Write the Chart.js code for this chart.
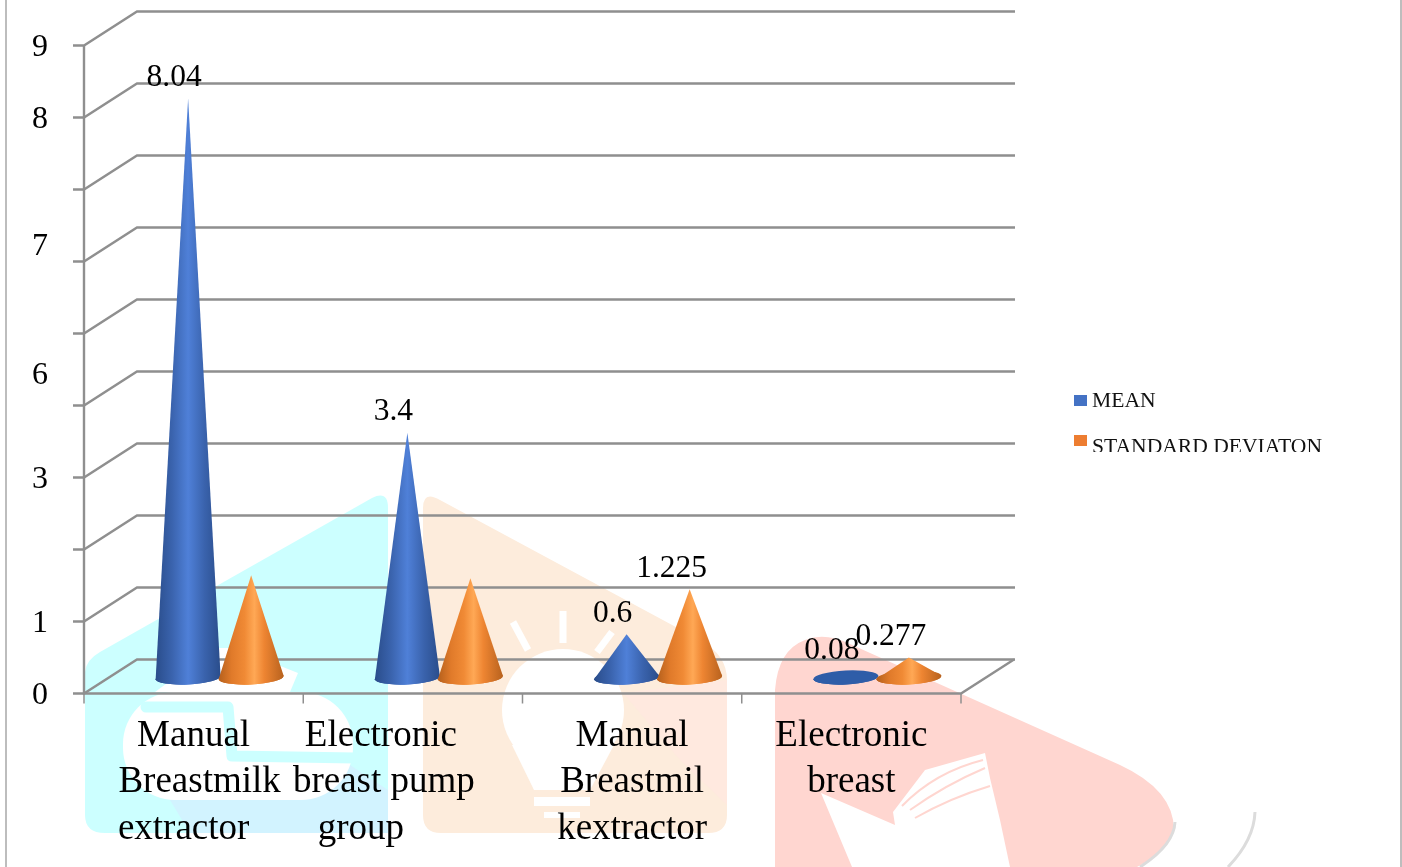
<!DOCTYPE html>
<html>
<head>
<meta charset="utf-8">
<title>Mean and standard deviation</title>
<script src="https://cdn.jsdelivr.net/npm/chart.js@4"></script>
<style>
    html, body { margin: 0; padding: 0; background: #fff; overflow: hidden; }
    #chartcontainer { width: 1402px; height: 867px; }
</style>
</head>
<body>
<div id="chartcontainer"><canvas id="myChart" width="1402" height="867"></canvas></div>
<script>
// data
const categories = [
    ['Manual', 'Breastmilk', 'extractor'],
    ['Electronic', 'breast pump', 'group'],
    ['Manual', 'Breastmil', 'kextractor'],
    ['Electronic', 'breast']
];
const seriesNames = ['MEAN', 'STANDARD DEVIATON'];
const meanValues = [8.04, 3.4, 0.6, 0.08];
const sdValues = [1.42, 1.38, 1.225, 0.277];   // first two have no label in the picture, estimated
const meanLabels = ['8.04', '3.4', '0.6', '0.08'];
const sdLabels = ['', '', '1.225', '0.277'];
// the y axis labels in the picture do not sit on their own gridlines
const yLabelValues = [0, 1, 3, 4.44, 6.24, 8, 9];
const yLabelTexts = ['0', '1', '3', '6', '7', '8', '9'];

// layout and styling
const serif = '"Liberation Serif", "Times New Roman", serif';
const gridColor = '#8f8f8f';
const depthX = 53, depthY = 34;      // perspective of the 3D box
const coneShiftX = 26, coneShiftY = -16;
const legendColors = ['#4472c4', '#ed7d31'];
const coneStops = [
    [[0, '#2a4d8b'], [0.25, '#3a63ad'], [0.5, '#4f80d8'], [0.75, '#3a63ad'], [1, '#2a4d8b']],
    [[0, '#b5601c'], [0.2, '#e07a2a'], [0.4, '#f08a35'], [0.55, '#ffa855'], [0.7, '#ee8532'], [1, '#b8621e']]
];
const labelNudges = [[0, 6, -10], [-32, -29, -52], [0, 0, 0], [0, 0]];
const valueLabelShift = [-14, -18];

function poly(ctx, points, color) {
    ctx.fillStyle = color;
    ctx.beginPath();
    points.forEach((p, i) => i ? ctx.lineTo(p[0], p[1]) : ctx.moveTo(p[0], p[1]));
    ctx.closePath();
    ctx.fill();
}

// pale logo watermark behind the chart
const watermarkPlugin = {
    id: 'watermark',
    beforeDraw(chart) {
        const ctx = chart.ctx;
        ctx.save();
        // cyan part
        ctx.fillStyle = '#ccffff';
        ctx.beginPath();
        ctx.moveTo(85, 672);
        ctx.quadraticCurveTo(86, 660, 100, 652);
        ctx.lineTo(372, 498);
        ctx.quadraticCurveTo(388, 490, 388, 508);
        ctx.lineTo(388, 833);
        ctx.lineTo(105, 833);
        ctx.quadraticCurveTo(85, 833, 85, 815);
        ctx.closePath();
        ctx.fill();
        poly(ctx, [[190, 833], [388, 833], [388, 790], [350, 765], [300, 800], [170, 800]], '#d2f3ff');
        poly(ctx, [[155, 692], [215, 648], [235, 648], [298, 673], [290, 692]], '#ffffff');
        ctx.fillStyle = '#ffffff';
        ctx.beginPath();
        ctx.roundRect(123, 692, 230, 108, 52);
        ctx.fill();
        ctx.strokeStyle = '#ccffff';
        ctx.lineWidth = 11;
        ctx.lineJoin = 'round';
        ctx.lineCap = 'round';
        ctx.beginPath();
        ctx.moveTo(146, 707);
        ctx.lineTo(228, 707);
        ctx.lineTo(232, 756);
        ctx.lineTo(355, 758);
        ctx.stroke();
        ctx.lineCap = 'butt';
        // orange part
        ctx.fillStyle = '#fdecdc';
        ctx.beginPath();
        ctx.moveTo(423, 508);
        ctx.quadraticCurveTo(423, 490, 440, 500);
        ctx.lineTo(700, 640);
        ctx.quadraticCurveTo(727, 655, 727, 680);
        ctx.lineTo(727, 815);
        ctx.quadraticCurveTo(727, 833, 708, 833);
        ctx.lineTo(441, 833);
        ctx.quadraticCurveTo(423, 833, 423, 815);
        ctx.closePath();
        ctx.fill();
        poly(ctx, [[623, 693], [727, 680], [727, 805], [680, 760]], '#ffe9df');
        // bulb
        ctx.fillStyle = '#ffffff';
        ctx.beginPath();
        ctx.arc(563, 710, 61, 0, Math.PI * 2);
        ctx.fill();
        poly(ctx, [[512, 745], [614, 745], [590, 790], [534, 790]], '#ffffff');
        ctx.fillRect(534, 797, 56, 9);
        ctx.fillRect(544, 812, 36, 6);
        ctx.strokeStyle = '#ffffff';
        ctx.lineWidth = 7;
        ctx.beginPath();
        ctx.moveTo(513, 622); ctx.lineTo(528, 650);
        ctx.moveTo(563, 611); ctx.lineTo(563, 643);
        ctx.moveTo(612, 632); ctx.lineTo(597, 652);
        ctx.stroke();
        // red part
        ctx.fillStyle = '#ffd6d0';
        ctx.beginPath();
        ctx.moveTo(775, 867);
        ctx.lineTo(775, 690);
        ctx.quadraticCurveTo(778, 650, 805, 640);
        ctx.quadraticCurveTo(825, 632, 850, 644);
        ctx.lineTo(1120, 765);
        ctx.quadraticCurveTo(1174, 790, 1174, 830);
        ctx.quadraticCurveTo(1170, 850, 1137, 867);
        ctx.closePath();
        ctx.fill();
        // open book cut out of the red part
        poly(ctx, [[852, 867], [821, 793], [895, 825], [893, 812], [925, 770], [985, 753], [990, 778], [1000, 820], [1010, 867]], '#ffffff');
        ctx.strokeStyle = '#ffd6d0';
        ctx.lineWidth = 2;
        ctx.beginPath();
        ctx.moveTo(902, 806); ctx.quadraticCurveTo(935, 772, 983, 760);
        ctx.moveTo(910, 810); ctx.quadraticCurveTo(945, 785, 985, 768);
        ctx.moveTo(915, 818); ctx.quadraticCurveTo(950, 798, 990, 786);
        ctx.stroke();
        // grey shadow arcs bottom right
        ctx.strokeStyle = '#dcdcdc';
        ctx.lineWidth = 3;
        ctx.beginPath();
        ctx.moveTo(1175, 822); ctx.quadraticCurveTo(1174, 845, 1140, 867);
        ctx.moveTo(1255, 812); ctx.quadraticCurveTo(1254, 840, 1228, 867);
        ctx.stroke();
        ctx.restore();
    }
};

// the 3D box: gridlines, ticks, axis
const boxPlugin = {
    id: 'box3d',
    beforeDatasetsDraw(chart) {
        const ctx = chart.ctx, y = chart.scales.y, x = chart.scales.x, area = chart.chartArea;
        ctx.save();
        ctx.strokeStyle = gridColor;
        ctx.lineWidth = 2.4;
        for (let v = y.min; v <= y.max; v++) {
            const py = y.getPixelForValue(v);
            ctx.beginPath();
            ctx.moveTo(area.left - 11, py);
            ctx.lineTo(area.left, py);
            ctx.lineTo(area.left + depthX, py - depthY);
            ctx.lineTo(area.right + depthX + 1, py - depthY);
            ctx.stroke();
        }
        ctx.beginPath();
        ctx.moveTo(area.left, area.top);
        ctx.lineTo(area.left, area.bottom);
        ctx.lineTo(area.right, area.bottom);
        ctx.lineTo(area.right + depthX, area.bottom - depthY);
        ctx.stroke();
        // category ticks, between the categories
        ctx.lineWidth = 1.5;
        const step = (area.right - area.left) / categories.length;
        for (let i = 0; i <= categories.length; i++) {
            const px = x.getPixelForValue(i) - step / 2;
            ctx.beginPath();
            ctx.moveTo(px, area.bottom);
            ctx.lineTo(px, area.bottom + 10);
            ctx.stroke();
        }
        ctx.restore();
    }
};

// cones on top of the (invisible) bars, from their geometry
const conePlugin = {
    id: 'cones',
    afterDatasetsDraw(chart) {
        const ctx = chart.ctx;
        const allLabels = [meanLabels, sdLabels];
        const texts = [];
        chart.data.datasets.forEach((ds, d) => {
            chart.getDatasetMeta(d).data.forEach((bar, i) => {
                const cx = bar.x + coneShiftX;
                const baseY = bar.base + coneShiftY;
                const tipY = bar.y + coneShiftY;
                const rx = bar.width / 2 + 1;
                const ry = 7;
                const tilt = -0.05;
                const grad = ctx.createLinearGradient(cx - rx, 0, cx + rx, 0);
                coneStops[d].forEach(s => grad.addColorStop(s[0], s[1]));
                ctx.save();
                // a cone flatter than its base only shows as a dark disc
                ctx.fillStyle = baseY - tipY <= ry ? '#2f5da8' : grad;
                ctx.beginPath();
                ctx.ellipse(cx, baseY, rx, ry, tilt, 0, Math.PI * 2);
                ctx.fill();
                ctx.beginPath();
                ctx.ellipse(cx, baseY, rx, ry, tilt, 0, Math.PI);
                ctx.lineTo(cx, tipY);
                ctx.closePath();
                ctx.fill();
                ctx.restore();
                if (allLabels[d][i]) texts.push([allLabels[d][i], cx + valueLabelShift[d], tipY - 12.5]);
            });
        });
        ctx.save();
        ctx.fillStyle = '#000';
        ctx.font = '31.5px ' + serif;
        ctx.textAlign = 'center';
        ctx.textBaseline = 'alphabetic';
        texts.forEach(t => ctx.fillText(t[0], t[1], t[2]));
        ctx.restore();
    }
};

// category labels, legend and page frame
const textPlugin = {
    id: 'texts',
    afterDraw(chart) {
        const ctx = chart.ctx, x = chart.scales.x, area = chart.chartArea;
        ctx.save();
        ctx.fillStyle = '#000';
        ctx.font = '37px ' + serif;
        ctx.textAlign = 'center';
        ctx.textBaseline = 'alphabetic';
        categories.forEach((lines, i) => {
            lines.forEach((line, j) => {
                ctx.fillText(line, x.getPixelForValue(i) + labelNudges[i][j], area.bottom + 52 + j * 46.5);
            });
        });
        // legend: the last row is cut off at the bottom in the picture
        ctx.beginPath();
        ctx.rect(1060, 380, 320, 72);
        ctx.clip();
        ctx.font = '21.6px ' + serif;
        ctx.textAlign = 'left';
        seriesNames.forEach((name, i) => {
            ctx.fillStyle = legendColors[i];
            ctx.fillRect(1074, 395 + i * 40, 13, 11);
            ctx.fillStyle = '#111';
            ctx.fillText(name, 1092, 407 + i * 46);
        });
        ctx.restore();
        ctx.save();
        ctx.strokeStyle = '#a8a8a8';
        ctx.lineWidth = 1.5;
        ctx.beginPath();
        ctx.moveTo(6, 0); ctx.lineTo(6, 867);
        ctx.moveTo(1401, 0); ctx.lineTo(1401, 867);
        ctx.stroke();
        ctx.restore();
    }
};

new Chart(document.getElementById('myChart'), {
    type: 'bar',
    data: {
        labels: categories,
        datasets: [
            { label: seriesNames[0], data: meanValues, backgroundColor: 'rgba(0,0,0,0)' },
            { label: seriesNames[1], data: sdValues, backgroundColor: 'rgba(0,0,0,0)' }
        ]
    },
    options: {
        responsive: false,
        animation: false,
        events: [],
        layout: { padding: { top: 45.5, right: 441, left: 0, bottom: 0 } },
        datasets: { bar: { categoryPercentage: 0.575, barPercentage: 1 } },
        plugins: { legend: { display: false }, tooltip: { enabled: false } },
        scales: {
            x: {
                grid: { display: false },
                border: { display: false },
                ticks: { display: false },
                afterFit(axis) { axis.height = 173.5; }
            },
            y: {
                min: 0,
                max: 9,
                grid: { display: false, drawTicks: false },
                border: { display: false },
                ticks: {
                    autoSkip: false,
                    padding: 36,
                    labelOffset: 2,
                    color: '#000',
                    font: { family: serif, size: 32 },
                    callback: (value, index) => yLabelTexts[index]
                },
                afterBuildTicks(axis) { axis.ticks = yLabelValues.map(v => ({ value: v })); },
                afterFit(axis) {
                    axis.width = 84;
                    // keep the half label height out of the plot box
                    axis.paddingTop = 0;
                    axis.paddingBottom = 0;
                }
            }
        }
    },
    plugins: [watermarkPlugin, boxPlugin, conePlugin, textPlugin]
});
</script>
</body>
</html>
